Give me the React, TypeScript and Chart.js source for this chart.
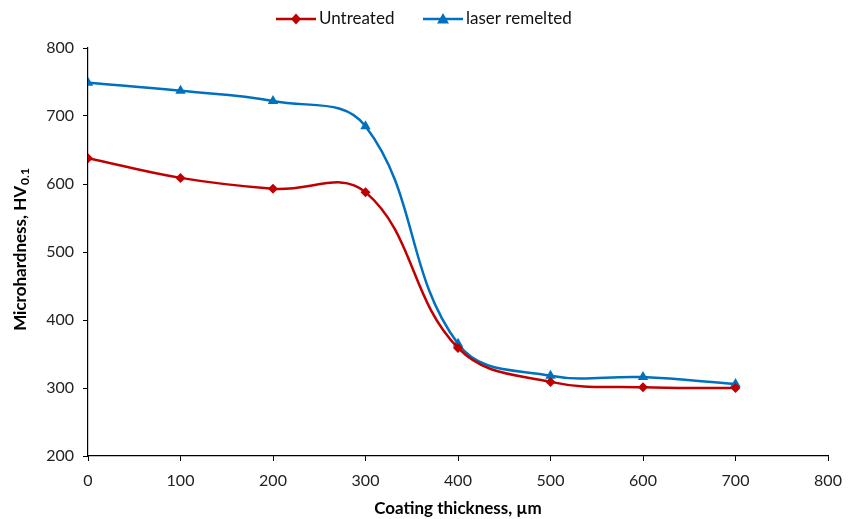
import React, { useEffect, useRef } from "react";
import { Chart, registerables } from "chart.js";
Chart.register(...registerables);

const thickness = [0, 100, 200, 300, 400, 500, 600, 700];
const untreated = [638, 609, 593, 588, 359, 309, 301, 300];
const laserRemelted = [749, 737, 722, 685, 365, 318, 316, 306];
const seriesNames = ["Untreated", "laser remelted"];
const xTitle = "Coating thickness, µm";
const yTitleMain = "Microhardness, HV";
const yTitleSub = "0.1";

const FONT = "Lato, 'Liberation Sans', Arial, sans-serif";
const RED = "#C00000";
const BLUE = "#0070C0";

const customPlugin = {
  id: "custom",
  afterDraw(chart: any) {
    const ctx = chart.ctx;
    ctx.save();
    // legend
    const ds = chart.data.datasets;
    const starts = [276, 423];
    const lineW = 40;
    const ly = 19;
    ds.forEach((d: any, i: number) => {
      const x = starts[i];
      ctx.strokeStyle = d.borderColor;
      ctx.lineWidth = 2.5;
      ctx.beginPath();
      ctx.moveTo(x, ly);
      ctx.lineTo(x + lineW, ly);
      ctx.stroke();
      ctx.fillStyle = d.borderColor;
      ctx.beginPath();
      const cx = x + lineW / 2;
      if (d.pointStyle === "triangle") {
        ctx.moveTo(cx, ly - 6);
        ctx.lineTo(cx + 6, ly + 4.5);
        ctx.lineTo(cx - 6, ly + 4.5);
      } else {
        ctx.moveTo(cx, ly - 5.5);
        ctx.lineTo(cx + 5, ly);
        ctx.lineTo(cx, ly + 5.5);
        ctx.lineTo(cx - 5, ly);
      }
      ctx.closePath();
      ctx.fill();
      ctx.fillStyle = "#111";
      ctx.font = `17px ${FONT}`;
      ctx.textBaseline = "middle";
      ctx.textAlign = "left";
      ctx.fillText(d.label, x + lineW + 3, ly);
    });
    // x title
    const ca = chart.chartArea;
    ctx.font = `bold 17px ${FONT}`;
    ctx.textAlign = "center";
    ctx.textBaseline = "middle";
    ctx.fillStyle = "#000";
    ctx.fillText(xTitle, (ca.left + ca.right) / 2, 509);
    // y title with subscript
    const cy = 250;
    ctx.translate(21, cy);
    ctx.rotate(-Math.PI / 2);
    ctx.font = `bold 17px ${FONT}`;
    const w1 = ctx.measureText(yTitleMain).width;
    ctx.font = `bold 12px ${FONT}`;
    const w2 = ctx.measureText(yTitleSub).width;
    const start = -(w1 + w2) / 2;
    ctx.textAlign = "left";
    ctx.textBaseline = "middle";
    ctx.fillStyle = "#000";
    ctx.font = `bold 17px ${FONT}`;
    ctx.fillText(yTitleMain, start, 0);
    ctx.font = `bold 12px ${FONT}`;
    ctx.fillText(yTitleSub, start + w1 + 1, 4);
    ctx.restore();
  },
};

export default function App() {
  const ref = useRef<HTMLCanvasElement | null>(null);
  useEffect(() => {
    document.body.style.margin = "0";
    const chart = new Chart(ref.current as HTMLCanvasElement, {
      type: "line",
      data: {
        datasets: [
          {
            label: seriesNames[0],
            data: thickness.map((x, i) => ({ x, y: untreated[i] })),
            borderColor: RED,
            backgroundColor: RED,
            borderWidth: 2.5,
            pointStyle: "rectRot",
            pointRadius: 5,
            pointBorderWidth: 0,
            tension: 0.4,
          },
          {
            label: seriesNames[1],
            data: thickness.map((x, i) => ({ x, y: laserRemelted[i] })),
            borderColor: BLUE,
            backgroundColor: BLUE,
            borderWidth: 2.5,
            pointStyle: "triangle",
            pointRadius: 6,
            pointBorderWidth: 0,
            tension: 0.4,
          },
        ],
      },
      options: {
        animation: false,
        responsive: false,
        layout: { padding: { top: 48, right: 32, left: 0, bottom: 0 } },
        plugins: { legend: { display: false }, tooltip: { enabled: false } },
        scales: {
          x: {
            type: "linear",
            min: 0,
            max: 800,
            ticks: { stepSize: 100, color: "#222", font: { family: FONT, size: 16 }, padding: 10 },
            grid: { drawOnChartArea: false, color: "#000", tickLength: 5 },
            border: { color: "#000", width: 1.2 },
            afterFit: (s: any) => { s.height = 63; },
          },
          y: {
            min: 200,
            max: 800,
            ticks: { stepSize: 100, color: "#222", font: { family: FONT, size: 16 }, padding: 9 },
            grid: { drawOnChartArea: false, color: "#000", tickLength: 5 },
            border: { color: "#000", width: 1.2 },
            afterFit: (s: any) => { s.width = 88; },
          },
        },
      },
      plugins: [customPlugin],
    } as any);
    return () => chart.destroy();
  }, []);
  return (
    <div style={{ width: 860, height: 519 }}>
      <canvas ref={ref} width={860} height={519} style={{ display: "block" }} />
    </div>
  );
}
